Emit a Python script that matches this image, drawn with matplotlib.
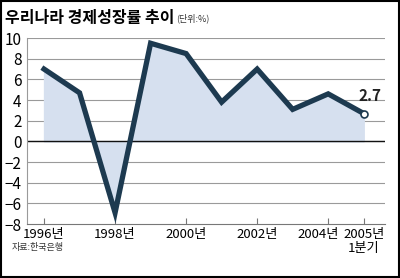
import matplotlib.pyplot as plt
from matplotlib.patches import Rectangle
from matplotlib.transforms import ScaledTranslation

# data
years = [1996, 1997, 1998, 1999, 2000, 2001, 2002, 2003, 2004, 2005]
growth = [7.0, 4.7, -6.9, 9.5, 8.5, 3.8, 7.0, 3.1, 4.6, 2.7]
tick_years = [1996, 1998, 2000, 2002, 2004, 2005]
tick_labels = ['1996년', '1998년', '2000년', '2002년', '2004년', '2005년\n1분기']

plt.rcParams['font.family'] = ['Liberation Sans Narrow', 'Noto Sans CJK KR', 'DejaVu Sans']

fig = plt.figure(figsize=(4, 2.78), dpi=100)
ax = fig.add_axes([0.0675, 0.194, 0.895, 0.669])

line_col = '#1d3a50'
ax.fill_between(years, growth, 0, color='#d6e0ef', zorder=1)
for y in range(-6, 11, 2):
    ax.axhline(y, color='#9a9a9a', lw=0.8, zorder=0)
ax.axhline(0, color='#111111', lw=1.0, zorder=2)
ax.plot(years, growth, color=line_col, lw=3.8, solid_joinstyle='miter', zorder=3)
ax.plot(years[-1], growth[-1], 'o', ms=5, mfc='white', mec=line_col, mew=1.2, zorder=4)
ax.text(years[-1] - 0.15, growth[-1] + 0.9, '2.7', fontsize=11, fontweight='bold',
        color='#222222', ha='left', va='bottom', zorder=5)

ax.set_xlim(1995.52, 2005.6)
ax.set_ylim(-8, 10)
ax.set_yticks(range(-8, 11, 2))
ax.set_xticks(tick_years)
ax.set_xticklabels(tick_labels, fontsize=9.5, linespacing=1.1, va='top')
ax.tick_params(axis='y', length=0, labelsize=11, pad=4)
ax.tick_params(axis='x', direction='in', length=4, color='#777777', pad=3)
# the 2004 label sits a little left of its tick
lab = ax.get_xticklabels()[4]
lab.set_transform(lab.get_transform() + ScaledTranslation(-10 / 100, 0, fig.dpi_scale_trans))
for s in ['top', 'right']:
    ax.spines[s].set_visible(False)
ax.spines['left'].set_color('#9a9a9a')
ax.spines['bottom'].set_color('#777777')
ax.spines['left'].set_linewidth(0.8)
ax.spines['bottom'].set_linewidth(0.8)

fig.text(0.012, 0.935, '우리나라 경제성장률 추이', fontsize=11.5, fontweight='bold',
         family=['Noto Sans CJK KR'], va='center')
fig.text(0.44, 0.935, '(단위:%)', fontsize=6.5, family=['Noto Sans CJK KR'], va='center', color='#333333')
fig.text(0.03, 0.108, '자료:한국은행', fontsize=6.5, style='italic',
         family=['Noto Sans CJK KR'], va='center', color='#333333')

fig.patches.append(Rectangle((0.002, 0.003), 0.995, 0.993, transform=fig.transFigure,
                             fill=False, ec='black', lw=1.5))

plt.savefig('out.png', dpi=100)
plt.close()
